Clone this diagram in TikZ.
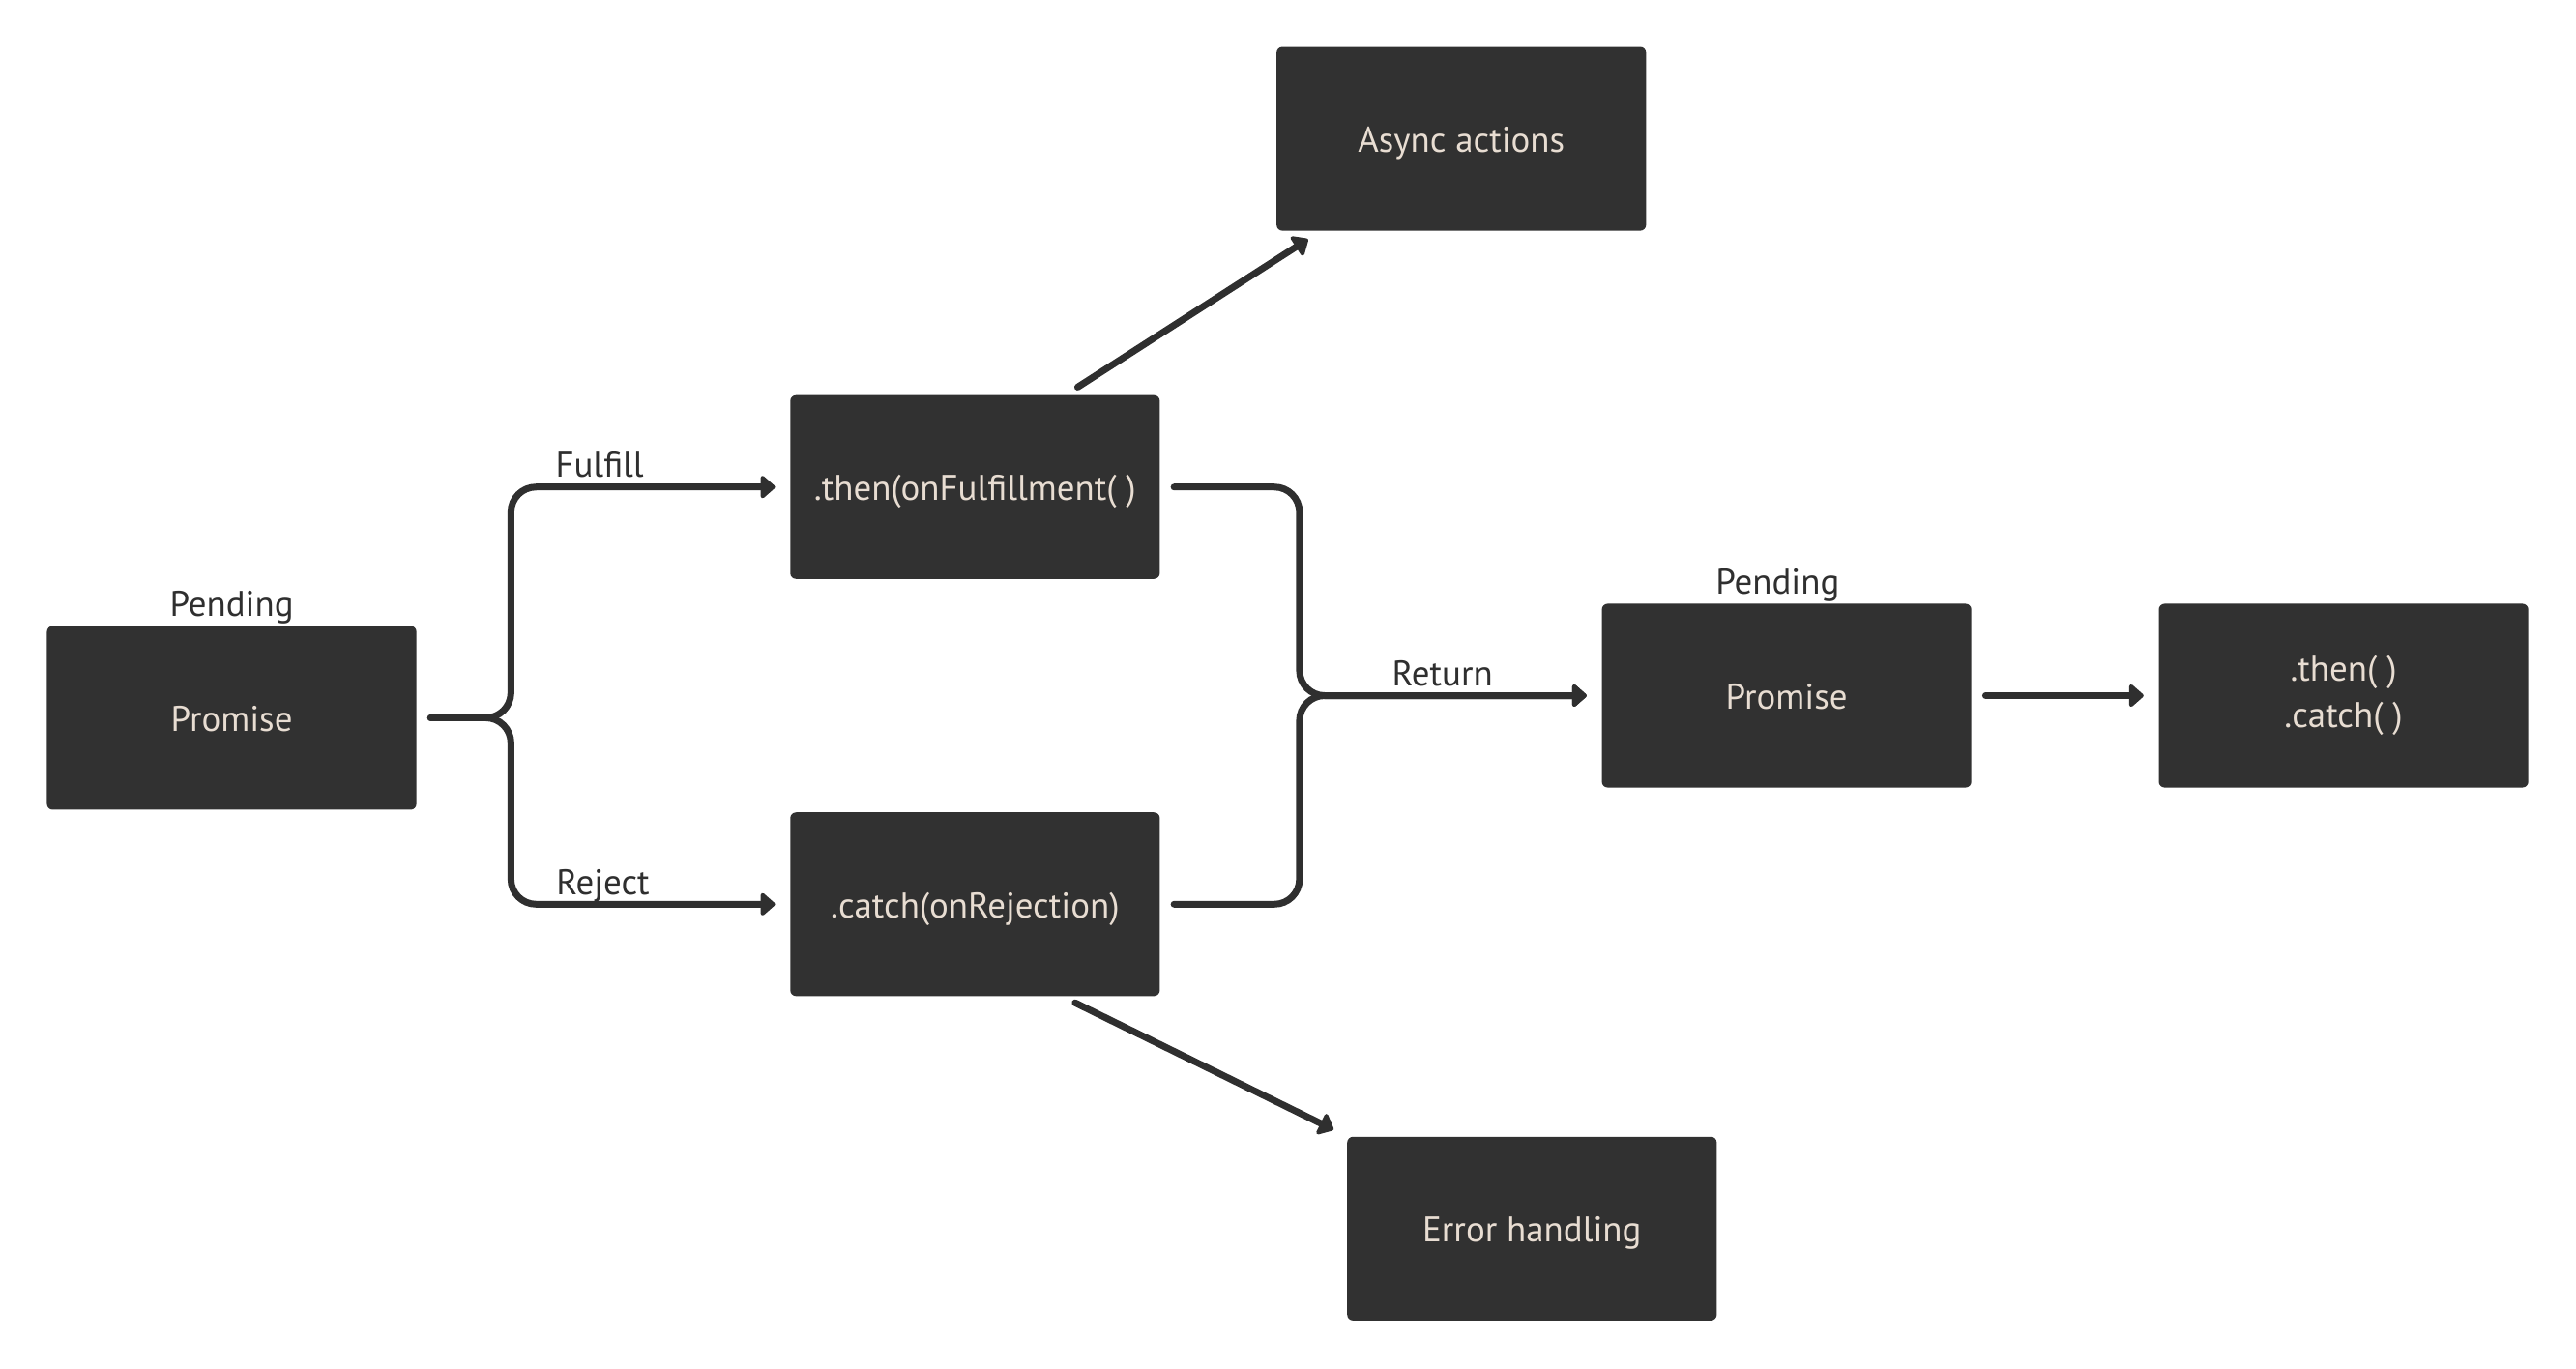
\documentclass[tikz,border=0pt]{standalone}
\usepackage{fontspec}
\setmainfont{PT Sans}
\usepackage{tikz}
\usetikzlibrary{arrows.meta,calc}
\definecolor{boxgray}{HTML}{313131}
\definecolor{boxtext}{HTML}{E8DDD2}
\definecolor{linegray}{HTML}{2F2F2F}

\begin{document}
\begin{tikzpicture}[x=0.01699cm, y=-0.01699cm,
				box/.style={rectangle, fill=boxgray, rounded corners=0.06cm,
				minimum width=3.82cm, minimum height=1.9cm,
				text height=1.0em, text depth=0.2em,
				text=boxtext, align=center, font=\fontsize{10.5}{13.5}\selectfont},
				lbl/.style={text=linegray, text height=1.02em, text depth=0.2em,
				font=\fontsize{10.5}{13}\selectfont},
				conn/.style={line width=0.07cm, draw=linegray, line cap=round,
				rounded corners=0.26cm, shorten <=0.14cm, shorten >=0.15cm,
				-{Triangle[length=0.16cm,width=0.27cm,round]}}]
				\useasboundingbox (0,0) rectangle (1568,833);
				\node[box] (p1) at(141,437){Promise};
				\node[box] (then) at(593.5,296.5){.then(onFulfillment( )};
				\node[box] (catch) at(593.5,550.5){.catch(onRejection)};
				\node[box] (async) at(889.5,84.5){Async actions};
				\node[box] (err) at(932.5,748){Error handling};
				\node[box] (p2) at(1087.5,423.5){Promise};
				\node[box, text height=, text depth=] (tc) at(1426.5,423.5){.then( )\\.catch( )};
				\node[lbl] (pend1) at(141,367){Pending};
				\node[lbl] (pend2) at(1082,353){Pending};
				\node[lbl] (fulfill) at(365,282){Fulfill};
				\node[lbl] (reject) at(367,536){Reject};
				\node[lbl] (return) at(878,409){Return};
				\coordinate (split) at(311,437);
				\coordinate (join) at(791,423.5);
				\draw[conn] (p1.east) -- (split) |- (then.west);
				\draw[conn] (p1.east) -- (split) |- (catch.west);
				\draw[conn] (then.east) -| (join) -- (p2.west);
				\draw[conn] (catch.east) -| (join) -- (p2.west);
				\draw[conn] (p2.east) -- (tc.west);
				\draw[conn] ($(then.north)+(55.5,0)$) -- ($(async.south west)+(27,0)$);
				\draw[conn] ($(catch.south)+(53.5,0)$) -- (err.north west);
			\end{tikzpicture}
\end{document}
